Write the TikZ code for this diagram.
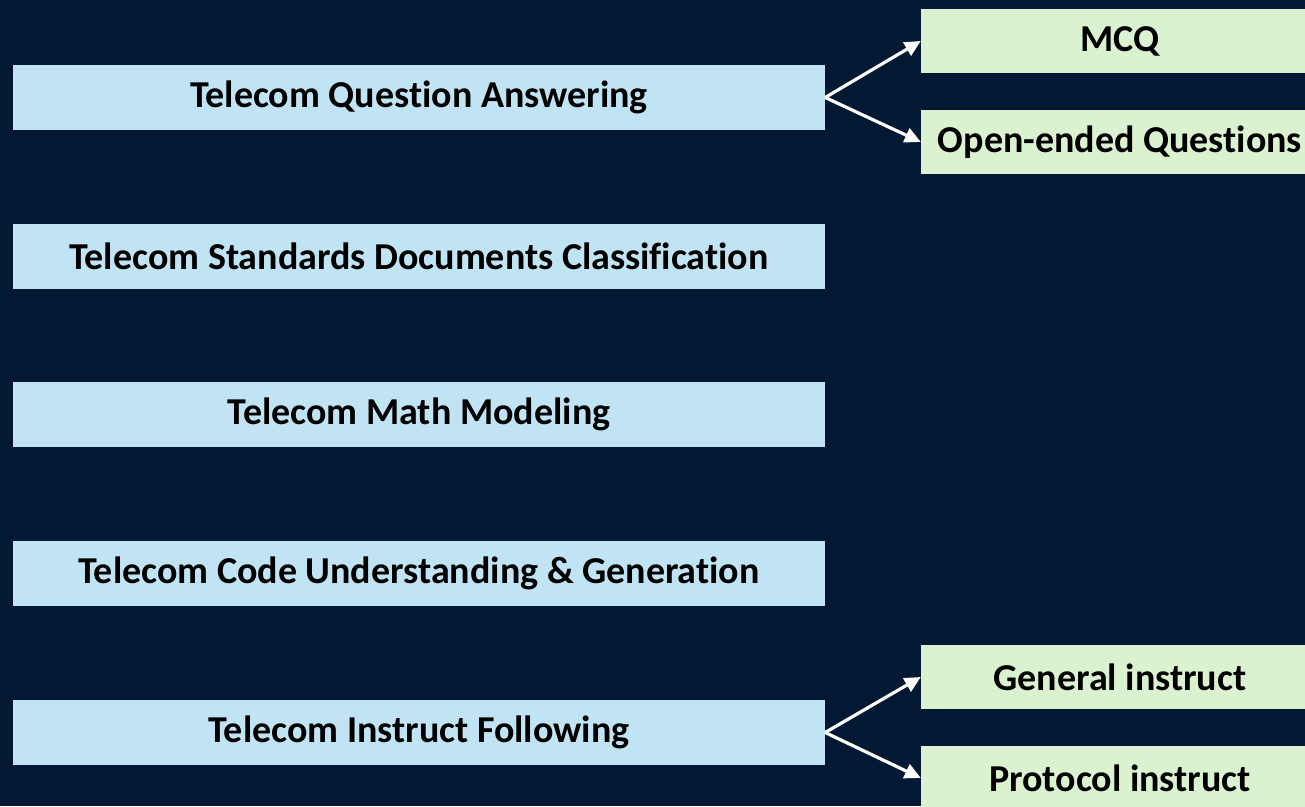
\documentclass[tikz,border=0pt]{standalone}
\usepackage{fontspec}
\setmainfont{Carlito}[Ligatures=NoCommon]
\usetikzlibrary{arrows.meta}

\definecolor{navy}{HTML}{021833}
\definecolor{taskblue}{HTML}{C1E4F5}
\definecolor{subgreen}{HTML}{DAF2D0}

\tikzset{
  task/.style={fill=taskblue, minimum width=812pt, minimum height=65pt, inner sep=0pt,
    font=\fontsize{38}{42}\selectfont\bfseries},
  sub/.style={fill=subgreen, minimum width=398pt, minimum height=64pt, inner sep=0pt,
    font=\fontsize{38}{42}\selectfont\bfseries},
  link/.style={white, line width=3.2pt, -{Triangle[length=16pt, width=15pt]}}
}

\begin{document}
\begin{tikzpicture}[x=1pt, y=1pt]
  \clip (0,0) rectangle (1305,806);
  \fill[navy] (0,0) rectangle (1305,806);

  % main task boxes
  \node[task] (qa) at (419,708.5) {Telecom Question Answering};
  \node[task] (std) at (419,549.5) {Telecom Standards Documents Classification};
  \node[task] (math) at (419,391.5) {Telecom Math Modeling};
  \node[task] (code) at (419,232.5) {Telecom Code Understanding \& Generation};
  \node[task] (inst) at (419,73.5) {Telecom Instruct Following};

  % sub tasks
  \node[sub] (mcq) at (1120,765) {MCQ};
  \node[sub] (open) at (1120,664) {Open-ended Questions};
  \node[sub] (gen) at (1120,129) {General instruct};
  \node[sub] (proto) at (1120,28) {Protocol instruct};

  \draw[link] (qa.east) -- (mcq.west);
  \draw[link] (qa.east) -- (open.west);
  \draw[link] (inst.east) -- (gen.west);
  \draw[link] (inst.east) -- (proto.west);
\end{tikzpicture}
\end{document}
